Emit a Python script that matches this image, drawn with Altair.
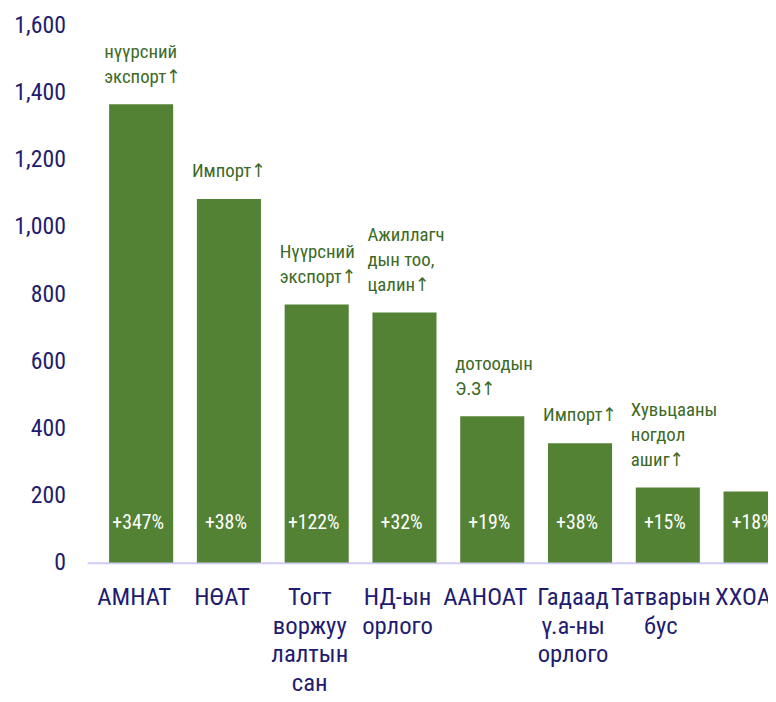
import altair as alt
import pandas as pd

categories = ["АМНАТ", "НӨАТ", "Тогт\nворжуу\nлалтын\nсан", "НД-ын\nорлого", "ААНОАТ",
              "Гадаад\nү.а-ны\nорлого", "Татварын\nбус", "ХХОАТ"]
values = [1365, 1083, 769, 745, 436, 356, 224, 212]
growth = ["+347%", "+38%", "+122%", "+32%", "+19%", "+38%", "+15%", "+18%"]
notes = ["нүүрсний\nэкспорт↑", "Импорт↑", "Нүүрсний\nэкспорт↑", "Ажиллагч\nдын тоо,\nцалин↑",
         "дотоодын\nЭ.З↑", "Импорт↑", "Хувьцааны\nногдол\nашиг↑", ""]

df = pd.DataFrame({"cat": categories, "val": values, "growth": growth, "note": notes})

FONT = "Roboto Condensed, Liberation Sans Narrow, DejaVu Sans Condensed, Roboto"
GREEN = "#548235"
NAVY = "#1f1c70"

x = alt.X("cat:N", sort=categories, title=None,
          scale=alt.Scale(range=[0, 730], paddingInner=0.27, paddingOuter=0.25),
          axis=alt.Axis(labelExpr="split(datum.label, '\\n')", labelAngle=0,
                        labelFont=FONT, labelFontSize=25, labelColor=NAVY,
                        labelLineHeight=29, labelPadding=22, labelOffset=-7, ticks=False,
                        domainColor="#d0ccf5", domainWidth=2, labelOverlap=False,
                        labelBound=False))
y = alt.Y("val:Q", title=None,
          scale=alt.Scale(domain=[0, 1600], nice=False),
          axis=alt.Axis(values=[0, 200, 400, 600, 800, 1000, 1200, 1400, 1600],
                        format=",.0f", labelFont=FONT, labelFontSize=24, labelColor=NAVY,
                        labelPadding=22, ticks=False, domain=False, grid=False))

base = alt.Chart(df)

bars = base.mark_bar(color=GREEN, clip=True).encode(x=x, y=y)

pct = base.mark_text(color="white", font=FONT, fontSize=20, baseline="middle",
                     dx=-3, dy=-40, clip=True).encode(
    x=alt.X("cat:N", sort=categories), y=alt.datum(0), text="growth:N")

ann_base = base.transform_calculate(
    lines="split(datum.note, '\\n')",
    n="length(split(datum.note, '\\n'))")

ann_layers = []
for k in (1, 2, 3):
    ann_layers.append(
        ann_base.transform_filter(f"datum.note != '' && datum.n == {k}").mark_text(
            color="#3d6a26", font=FONT, fontSize=19, baseline="bottom", align="left",
            dx=-5, dy=-18 - (k - 1) * 25, lineHeight=25).encode(
            x=alt.X("cat:N", sort=categories, bandPosition=0), y="val:Q", text="lines:N"))

chart = alt.layer(bars, pct, *ann_layers).properties(
    width=688, height=543,
    autosize=alt.AutoSizeParams(type="none"),
    padding={"left": 80, "top": 14, "right": 0, "bottom": 129},
).configure_view(stroke=None)

chart.save("out.html", embed_options={"renderer": "svg", "actions": False})
